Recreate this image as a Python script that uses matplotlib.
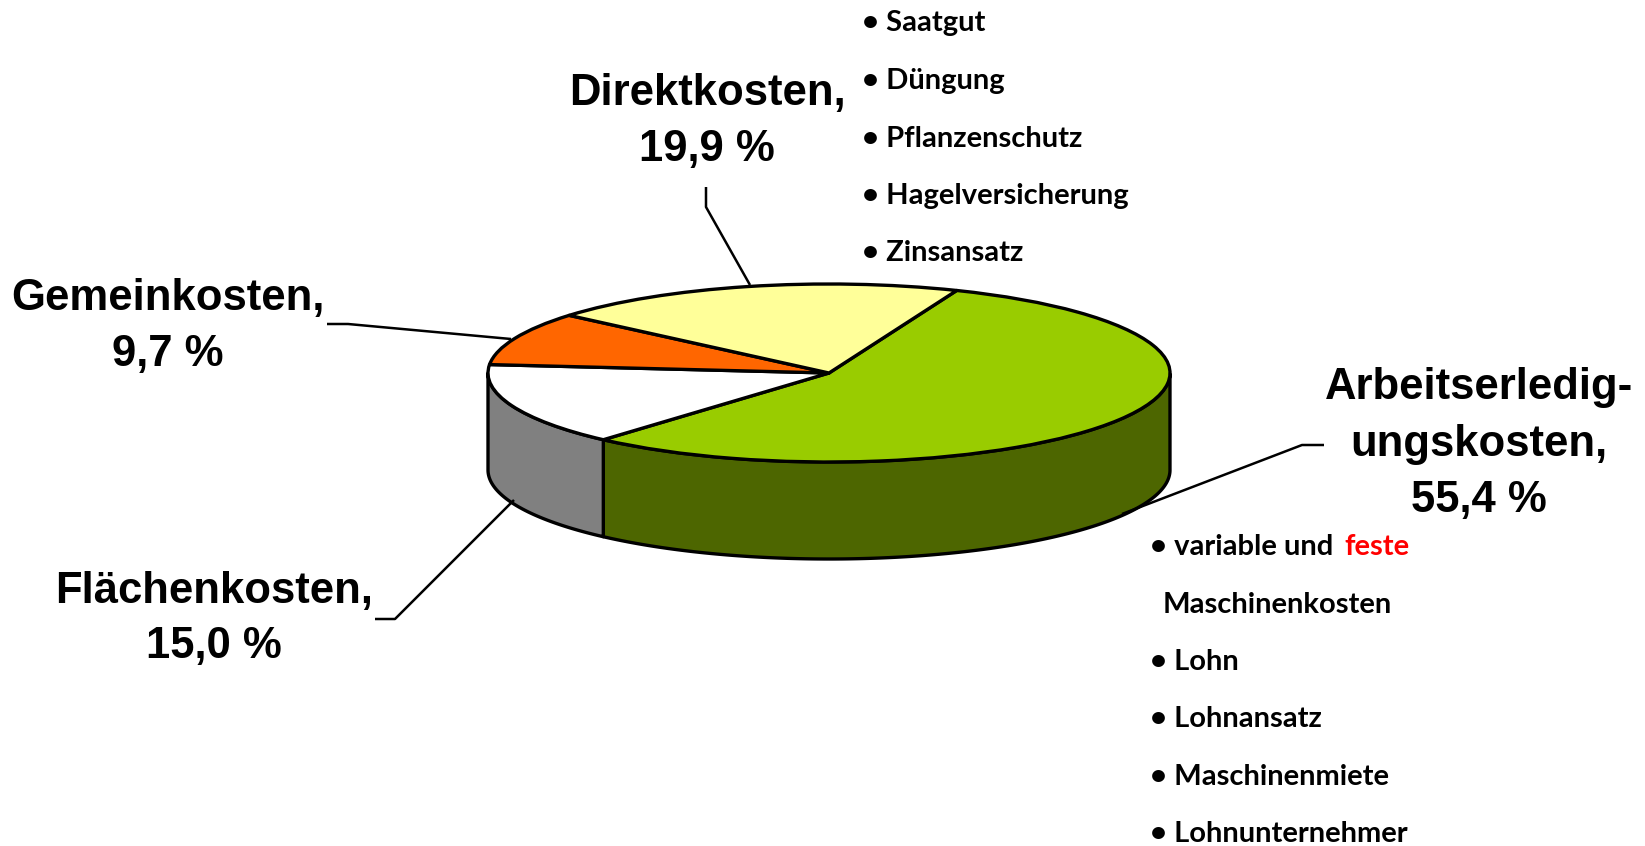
import numpy as np
import matplotlib
matplotlib.use("Agg")
import matplotlib.pyplot as plt

W, H = 1645, 846

# Slice values in percent, clockwise from the green slice
slices = ["Arbeitserledigungskosten", "Flächenkosten", "Gemeinkosten", "Direktkosten"]
values = [55.4, 15.0, 9.7, 19.9]
top_colors = ["#99CC00", "#FFFFFF", "#FF6600", "#FFFF99"]
wall_colors = ["#4D6600", "#808080", "#B34700", "#B3B36B"]

direkt_items = ["• Saatgut", "• Düngung", "• Pflanzenschutz", "• Hagelversicherung", "• Zinsansatz"]
arbeit_items = ["• Lohn", "• Lohnansatz", "• Maschinenmiete", "• Lohnunternehmer"]

START = 68
CX, CY, RX, RY, DEPTH = 829, 373, 341, 89, 97

fig = plt.figure(figsize=(W / 100, H / 100), dpi=100, facecolor="white")

# the pie axes are stretched so the circle becomes the flat ellipse
ax = fig.add_axes([(CX - RX) / W, 1 - (CY + RY) / H, 2 * RX / W, 2 * RY / H])
depth = 2 * DEPTH / (2 * RY)

# side walls, only the front half of the rim shows
angle = START
for val, col in zip(values, wall_colors):
    a0, a1 = angle - val * 3.6, angle
    angle = a0
    t = np.radians(np.arange(a0, a1 + 0.25, 0.5))
    t = t[np.sin(t) <= 0]
    if len(t) == 0:
        continue
    x = np.cos(t)
    y = np.sin(t)
    ax.fill(np.r_[x, x[::-1]], np.r_[y, y[::-1] - depth], facecolor=col,
            edgecolor="black", lw=2.4, clip_on=False, joinstyle="round")

ax.pie(values, colors=top_colors, startangle=START, counterclock=False, radius=1,
       wedgeprops=dict(edgecolor="black", linewidth=2.4, joinstyle="round", clip_on=False))
ax.set_aspect("auto")
ax.set_xlim(-1, 1)
ax.set_ylim(-1, 1)
ax.axis("off")

# everything else is placed in pixel coordinates
ov = fig.add_axes([0, 0, 1, 1])
ov.set_xlim(0, W)
ov.set_ylim(H, 0)
ov.axis("off")
ov.patch.set_alpha(0)

leaders = [
    ([706, 706, 750], [187, 207, 285]),
    ([327, 348, 511], [324, 324, 339]),
    ([375, 395, 514], [619, 619, 500]),
    ([1324, 1302, 1122], [445, 445, 514]),
]
for lx, ly in leaders:
    ov.plot(lx, ly, color="black", lw=1.8, solid_capstyle="butt")


def label(lines, x, ys):
    for s, y in zip(lines, ys):
        ov.text(x, y, s, ha="center", va="baseline", fontsize=31.4, fontweight="bold",
                family="Liberation Sans", color="black")


label(["Direktkosten,", "19,9 %"], 707, [105, 161])
label(["Gemeinkosten,", "9,7 %"], 168, [310, 366])
label(["Flächenkosten,", "15,0 %"], 214, [603, 658])
label(["Arbeitserledig-", "ungskosten,", "55,4 %"], 1479, [399, 456, 512])


def item(x, y, s, color="black"):
    ov.text(x, y, s, ha="left", va="baseline", fontsize=21, fontweight="bold",
            family="Lato", color=color)


for s, y in zip(direkt_items, [31, 89, 147, 204, 261]):
    item(862, y, s)

item(1150, 555, "• variable und")
item(1344, 555, "feste", color="#FF0000")
item(1163, 613, "Maschinenkosten")
for s, y in zip(arbeit_items, [670, 727, 785, 842]):
    item(1150, y, s)

fig.savefig("out.png", dpi=100)
